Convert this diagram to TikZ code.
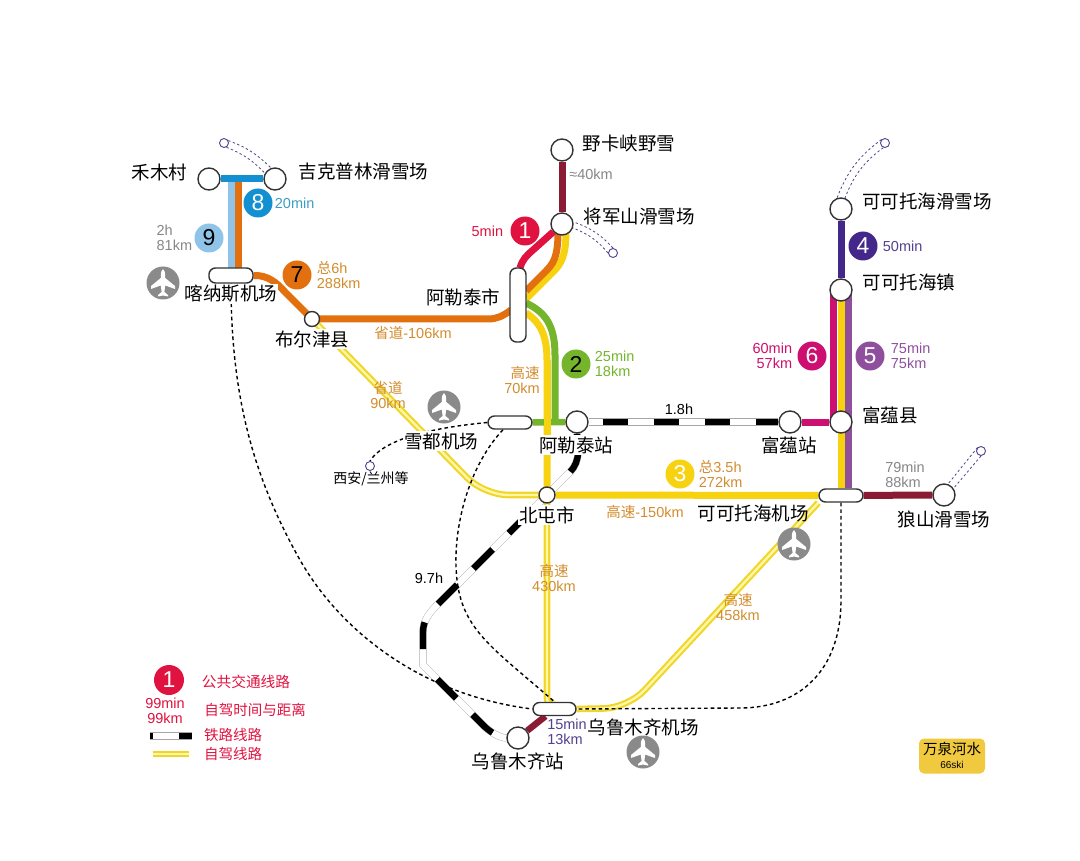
\documentclass[tikz,border=0pt]{standalone}
\usepackage{fontspec}
\setmainfont{Liberation Sans}
\newfontfamily\cjk{Noto Sans CJK SC}
\usepackage{tikz}
\usetikzlibrary{positioning}
\pgfdeclarelayer{background layer}
\pgfsetlayers{background layer,main}
\definecolor{routered}{HTML}{E0123F}
\definecolor{routegreen}{HTML}{74B52C}
\definecolor{routeyellow}{HTML}{F6D210}
\definecolor{routeindigo}{HTML}{43278A}
\definecolor{routeviolet}{HTML}{8F4F9C}
\definecolor{routepink}{HTML}{CC0F70}
\definecolor{routeorange}{HTML}{E2700F}
\definecolor{routeblue}{HTML}{1390D2}
\definecolor{routesky}{HTML}{8FC4E8}
\definecolor{routemaroon}{HTML}{8A1B35}
\definecolor{roadtan}{HTML}{D28C2E}
\definecolor{noteteal}{HTML}{3E9CC4}
\definecolor{noteindigo}{HTML}{54408F}
\definecolor{notegray}{HTML}{868686}
\definecolor{roadpale}{HTML}{FFF6A8}
\definecolor{roadedge}{HTML}{F0D628}
\definecolor{planegray}{HTML}{8A8A8A}
\definecolor{brandgold}{HTML}{F0C93F}
\definecolor{ringdark}{HTML}{333333}
\tikzset{station/.style={circle,draw=ringdark,line width=1.4,fill=white,minimum size=22,inner sep=0}}
\tikzset{halt/.style={station,minimum size=#1}}
\tikzset{hub/.style 2 args={draw=ringdark,line width=1.4,fill=white,rounded corners=6.5,minimum width=#1,minimum height=#2,inner sep=0}}
\tikzset{skidot/.style={circle,draw=noteindigo,line width=0.9,fill=white,minimum size=9,inner sep=0}}
\tikzset{metro/.style={draw=#1,line width=7}}
\tikzset{driveway/.style={draw=roadedge,line width=2.1,double=roadpale,double distance=2.4}}
\tikzset{railway/.style={draw=black,line width=6.4,preaction={draw=gray!70,line width=7.2,solid},preaction={draw=white,line width=6.4,solid}}}
\tikzset{transfer/.style={draw=black,line width=1.4,dash pattern=on 3.6 off 3}}
\tikzset{skiway/.style={draw=noteindigo,line width=0.8,dash pattern=on 2.4 off 2.4}}
\tikzset{placename/.style={font=\cjk\fontsize{18.5}{20}\selectfont,inner sep=1,text=black}}
\tikzset{masked/.style={placename,fill=white}}
\tikzset{note/.style={font=\fontsize{14.5}{15}\selectfont,inner sep=0,align=left,text=#1}}
\tikzset{badge/.style 2 args={circle,fill=#1,text=#2,minimum size=29,inner sep=0,font=\fontsize{23}{23}\selectfont}}
\tikzset{airport/.style={circle,fill=planegray,minimum size=33,inner sep=0}}
\tikzset{jet/.pic={\fill[white] (0,-14) .. controls (1.6,-13) and (2.2,-11) .. (2.2,-5) -- (12,3) -- (12,6) -- (2.2,2.5) -- (1.4,9) -- (5,12) -- (5,13.5) -- (0,12.5) -- (-5,13.5) -- (-5,12) -- (-1.4,9) -- (-2.2,2.5) -- (-12,6) -- (-12,3) -- (-2.2,-5) .. controls (-2.2,-11) and (-1.6,-13) .. (0,-14) -- cycle;}}
\newcommand{\zh}[1]{{\cjk #1}}
\begin{document}
\begin{tikzpicture}[x=1pt,y=-1pt]
\useasboundingbox (0,0) rectangle (1080,861);

% stations
\node[station] (hemu) at (209,179) {};
\node[station] (jikepulin) at (275,179) {};
\node[station] (yeka) at (562,150) {};
\node[station] (jiangjun) at (562,224) {};
\node[station] (ktski) at (841,209) {};
\node[station] (kttown) at (841,290) {};
\node[station] (fuyunxian) at (841,422) {};
\node[station] (fuyunstn) at (790,422) {};
\node[station] (altaystn) at (577,422) {};
\node[station] (langshan) at (944,495) {};
\node[station] (urumqistn) at (518,738) {};
\node[halt=15] (burjin) at (312,319) {};
\node[halt=16] (beitun) at (547,495) {};
\node[hub={44}{15}] (kanas) at (231,275.5) {};
\node[hub={16}{74}] (altaycity) at (518,305) {};
\node[hub={44}{13}] (xuedu) at (510,422.5) {};
\node[hub={44}{13}] (ktair) at (841,495.5) {};
\node[hub={43}{13}] (urumqiair) at (554.5,709) {};
\node[skidot] (skihemu) at (224,143) {};
\node[skidot] (skijiang) at (613,253) {};
\node[skidot] (skikt) at (885,143) {};
\node[skidot] (skilang) at (981,451) {};
\node[skidot] (xian) at (370,466) {};

\begin{pgfonlayer}{background layer}
% self-drive double lines
\draw[driveway,rounded corners=24] (burjin.center) -- (484,495) -- (beitun.center);
\draw[driveway,rounded corners=24] (ktair.south west) -- (628,708) -- (urumqiair.east);
\draw[driveway,rounded corners=10] (beitun.center) -- (547,708) -- (urumqiair.north);

% railways
\draw[railway,dash pattern=on 25 off 26,dash phase=37] (altaystn.east) -- (fuyunstn.west);
\draw[railway,dash pattern=on 40 off 200] (altaystn.south) -- (578,452) .. controls (578,460) and (575,467) .. (570,472) -- (beitun.center);
\draw[railway,dash pattern=on 0 off 27 on 27 off 23 on 27 off 23 on 27 off 23 on 27 off 36 on 27 off 23 on 27 off 300] (beitun.center) -- (437,605) .. controls (428,614) and (423,622) .. (423,632) -- (423,665) -- (485,727) .. controls (494,735) and (502,738) .. (urumqistn.west);

% bus and car routes
\draw[metro=routesky] (231.5,179) -- (231.5,270);
\draw[metro=routeorange] (238.5,179) -- (238.5,270);
\draw[metro=routeorange] (kanas.east) .. controls (268,275) and (277,283) .. (285,292) -- (burjin.center) -- (488,319) .. controls (497,319) and (503,316) .. (511,310);
\draw[metro=routeyellow] (526,299) -- (553,272) .. controls (561,264) and (566,256) .. (566,232);
\draw[metro=routeorange] (526,291) -- (545,272) .. controls (553,264) and (558,258) .. (558,232);
\draw[metro=routered] (520,268) .. controls (522,260) and (527,255) .. (533,250) -- (jiangjun);
\draw[metro=routegreen] (526,303) .. controls (545,312) and (555,325) .. (555,355) -- (555,422);
\draw[metro=routeyellow] (526,313) .. controls (540,322) and (547,335) .. (547,360) -- (beitun.center);
\path[metro=routeyellow] (beitun) edge (ktair);
\path[metro=routegreen,line width=6.5] (xuedu) edge (altaystn);
\draw[metro=routeyellow] (547,360) -- (547,440);
\path[metro=routemaroon] (yeka) edge (jiangjun);
\path[metro=routeindigo] (ktski) edge (kttown);
\path[metro=routeblue] (hemu) edge (jikepulin);
\path[metro=routepink] (fuyunstn) edge (fuyunxian);
\draw[metro=routepink] ([xshift=-7.5]kttown.center) -- ([xshift=-7.5]fuyunxian.center);
\draw[metro=routeviolet] ([xshift=7.5]kttown.center) -- ([xshift=7.5]ktair.north);
\draw[metro=routeyellow] (kttown.center) -- (ktair.north);
\path[metro=routemaroon] (ktair) edge (langshan);
\path[metro=routemaroon,line width=6.5] (urumqistn) edge (urumqiair);

% transfers between airports and stations
\draw[transfer] (kanas.south) .. controls (231,400) and (255,480) .. (300,560) .. controls (340,630) and (420,695) .. (urumqiair.west);
\draw[transfer] ([xshift=-7]xuedu.south) .. controls (465,470) and (450,540) .. (458,587) .. controls (466,632) and (495,650) .. (urumqiair.north);
\draw[transfer] (ktair.south) -- (841,600) .. controls (841,670) and (800,708) .. (740,708) -- (urumqiair.east);
\draw[transfer] (xuedu.west) .. controls (440,427) and (385,437) .. (xian.north);

% ski transfers
\path[skiway] (skihemu.30) edge[bend left=12] (jikepulin.110);
\path[skiway] (skihemu.300) edge[bend left=12] (jikepulin.150);
\path[skiway] (skijiang.90) edge[bend right=14] (jiangjun.10);
\path[skiway] (skijiang.180) edge[bend right=14] (jiangjun.340);
\path[skiway] (skikt.135) edge[bend right=16] (ktski.110);
\path[skiway] (skikt.250) edge[bend right=16] (ktski.70);
\path[skiway] (skilang.135) edge (langshan.70);
\path[skiway] (skilang.270) edge (langshan.35);
\end{pgfonlayer}

% place names
\node[placename] (hemuname) [left=9pt of hemu,yshift=7] {禾木村};
\node[placename] (jikepulinname) [right=11pt of jikepulin,yshift=7] {吉克普林滑雪场};
\node[masked] (kanasname) at (231,294) {喀纳斯机场};
\node[masked] (burjinname) at (312,339) {布尔津县};
\node[placename] (yekaname) at (629,143) {野卡峡野雪};
\node[placename] (jiangjunname) at (639,216) {将军山滑雪场};
\node[placename] (altaycityname) at (463,297) {阿勒泰市};
\node[placename] (ktskiname) at (927,201) {可可托海滑雪场};
\node[placename] (kttownname) at (909,282) {可可托海镇};
\node[placename] (fuyunxianname) at (890,415) {富蕴县};
\node[placename] (fuyunstnname) at (789,445) {富蕴站};
\node[masked] (altaystnname) at (576,445) {阿勒泰站};
\node[masked] (xueduname) at (441,441) {雪都机场};
\node[masked] (beitunname) at (547,515) {北屯市};
\node[placename] (ktairname) at (753,513) {可可托海机场};
\node[placename] (langshanname) at (944,519) {狼山滑雪场};
\node[placename] (urumqiairname) at (643,727) {乌鲁木齐机场};
\node[placename] (urumqistnname) at (518,761) {乌鲁木齐站};
\node[font=\cjk\fontsize{14}{15}\selectfont,inner sep=0] (xianname) at (371,479) {西安/兰州等};

% airports
\node[airport] (planekanas) at (163,283) {};
\node[airport] (planexuedu) at (444,407) {};
\node[airport] (planekt) at (794,544) {};
\node[airport] (planeurumqi) at (643,752) {};
\foreach \planename in {planekanas,planexuedu,planekt,planeurumqi}
  \pic at (\planename) {jet};

% route badges and their notes
\node[badge={routered}{white}] (one) at (525,231) {1};
\node[badge={routegreen}{black}] (two) at (576,364) {2};
\node[badge={routeyellow}{white}] (three) at (680,474) {3};
\node[badge={routeindigo}{white}] (four) at (863,246) {4};
\node[badge={routeviolet}{white}] (five) at (870,356) {5};
\node[badge={routepink}{white}] (six) at (812,356) {6};
\node[badge={routeorange}{black}] (seven) at (297,275) {7};
\node[badge={routeblue}{white}] (eight) at (258,203) {8};
\node[badge={routesky}{black}] (nine) at (209,238) {9};
\node[note=routered] (onenote) [left=7pt of one] {5min};
\node[note=routegreen] (twonote) [right=4pt of two] {25min\\18km};
\node[note=roadtan] (threenote) [right=4pt of three] {\zh{总}3.5h\\272km};
\node[note=noteindigo] (fournote) [right=5pt of four] {50min};
\node[note=routeviolet] (fivenote) [right=6pt of five] {75min\\75km};
\node[note=routepink,align=right] (sixnote) [left=5pt of six] {60min\\57km};
\node[note=roadtan] (sevennote) [right=5pt of seven] {\zh{总}6h\\288km};
\node[note=noteteal] (eightnote) [right=2pt of eight] {20min};
\node[note=notegray] (ninenote) [left=2pt of nine] {2h\\81km};

% distance notes
\node[note=notegray] (yekanote) at (591,174) {≈40km};
\node[note=notegray] (langshannote) at (905,475) {79min\\88km};
\node[note=noteindigo] (urumqinote) at (567,732) {15min\\13km};
\node[note=roadtan] (roadburjin) at (413,333) {\zh{省道}-106km};
\node[note=roadtan,align=center] (roadxuedu) at (388,395) {\zh{省道}\\90km};
\node[note=roadtan,align=right] (roadaltay) at (522,380) {\zh{高速}\\70km};
\node[note=roadtan] (roadbeitun) at (645,512) {\zh{高速}-150km};
\node[note=roadtan,align=center] (roadsouth) at (554,578) {\zh{高速}\\430km};
\node[note=roadtan,align=center] (roadkt) at (738,607) {\zh{高速}\\458km};
\node[note=black] (railfuyun) at (679,409) {1.8h};
\node[note=black] (railsouth) at (429,578) {9.7h};

% legend
\node[badge={routered}{white},minimum size=30] (legendbadge) at (169,680) {1};
\node[note=routered,align=center] (legendnote) at (165,711) {99min\\99km};
\coordinate (legendraila) at (150,736);
\coordinate (legendrailb) at (192,736);
\coordinate (legendroada) at (153,754);
\coordinate (legendroadb) at (189,754);
\draw[railway,dash pattern=on 3 off 26 on 13 off 10] (legendraila) -- (legendrailb);
\draw[driveway] (legendroada) -- (legendroadb);
\node[note=routered,font=\cjk\fontsize{14.7}{15}\selectfont] (legendbus) at (246,682) {公共交通线路};
\node[note=routered,font=\cjk\fontsize{14.5}{15}\selectfont] (legendtime) at (255,710) {自驾时间与距离};
\node[note=routered,font=\cjk\fontsize{14.5}{15}\selectfont] (legendrail) at (233,735) {铁路线路};
\node[note=routered,font=\cjk\fontsize{14.5}{15}\selectfont] (legendroad) at (233,754) {自驾线路};

% brand tag
\node[fill=brandgold,rounded corners=5,minimum width=66,minimum height=35,inner sep=0] (brandbox) at (952,756) {};
\node[font=\cjk\fontsize{14.5}{16}\selectfont,inner sep=0] (brandname) at (952,749) {万泉河水};
\node[font=\fontsize{10}{11}\selectfont,inner sep=0] (brandsite) at (952,765) {66ski};
\end{tikzpicture}
\end{document}
